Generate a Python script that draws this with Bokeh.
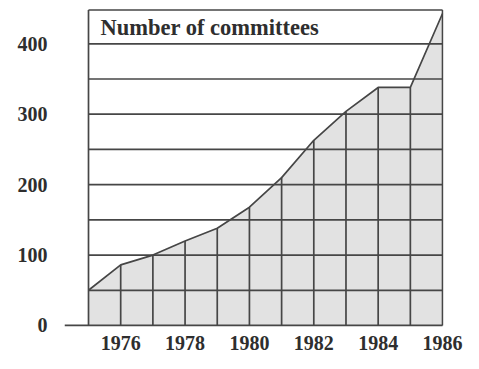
from bokeh.plotting import figure
from bokeh.models import Range1d, FixedTicker, Label
from bokeh.embed import file_html
from bokeh.resources import INLINE

# ---- data ----
years = [1975, 1976, 1977, 1978, 1979, 1980, 1981, 1982, 1983, 1984, 1985, 1986]
committees = [50, 86, 100, 120, 138, 168, 210, 263, 304, 338, 338, 443]
x_ticks = [1976, 1978, 1980, 1982, 1984, 1986]
y_ticks = [0, 100, 200, 300, 400]
grid_levels = [50, 100, 150, 200, 250, 300, 350, 400]
frame_top = 448
title_text = "Number of committees"

LINE = "#464646"
FILL = "#e2e2e2"
TEXT = "#2e2e2e"
FONT = "Liberation Serif"

p = figure(width=463, height=353, output_backend="svg", toolbar_location=None,
           x_range=Range1d(1974.254, 1986.03), y_range=Range1d(-1.42, 450.1),
           min_border_left=64, min_border_right=20, min_border_top=8, min_border_bottom=27)
p.outline_line_color = None
p.xgrid.visible = False
p.ygrid.visible = False
p.background_fill_color = "white"
p.border_fill_color = "white"

# area under curve
p.varea(x=years, y1=[0] * len(years), y2=committees, fill_color=FILL)

# horizontal grid lines across the frame
p.segment(x0=[years[0]] * len(grid_levels), x1=[years[-1]] * len(grid_levels),
          y0=grid_levels, y1=grid_levels, line_color=LINE, line_width=1.7)

# vertical lines under the curve
p.segment(x0=years[1:-1], x1=years[1:-1], y0=[0] * (len(years) - 2), y1=committees[1:-1],
          line_color=LINE, line_width=1.7)

# frame: left, right, top
p.segment(x0=[years[0], years[-1], years[0]], x1=[years[0], years[-1], years[-1]],
          y0=[0, 0, frame_top], y1=[frame_top, frame_top, frame_top],
          line_color=LINE, line_width=1.7)

# baseline extending left
p.segment(x0=[p.x_range.start], x1=[years[-1]], y0=[0], y1=[0], line_color=LINE, line_width=1.9)

# data line
p.line(x=years, y=committees, line_color=LINE, line_width=1.7)

# title inside the chart
p.add_layout(Label(x=1975.37, y=423, text=title_text, text_font=FONT, text_font_style="bold",
                   text_font_size="22.5px", text_color=TEXT, text_baseline="alphabetic"))

for ax in (p.xaxis[0], p.yaxis[0]):
    ax.axis_line_color = None
    ax.major_tick_line_color = None
    ax.minor_tick_line_color = None
    ax.major_tick_out = 0
    ax.major_tick_in = 0
    ax.major_label_text_font = FONT
    ax.major_label_text_font_style = "bold"
    ax.major_label_text_font_size = "20px"
    ax.major_label_text_color = TEXT

p.xaxis[0].ticker = FixedTicker(ticks=x_ticks)
p.yaxis[0].ticker = FixedTicker(ticks=y_ticks)
p.xaxis[0].major_label_standoff = 9
p.yaxis[0].major_label_standoff = 17

open("out.html", "w").write(file_html(p, INLINE))
